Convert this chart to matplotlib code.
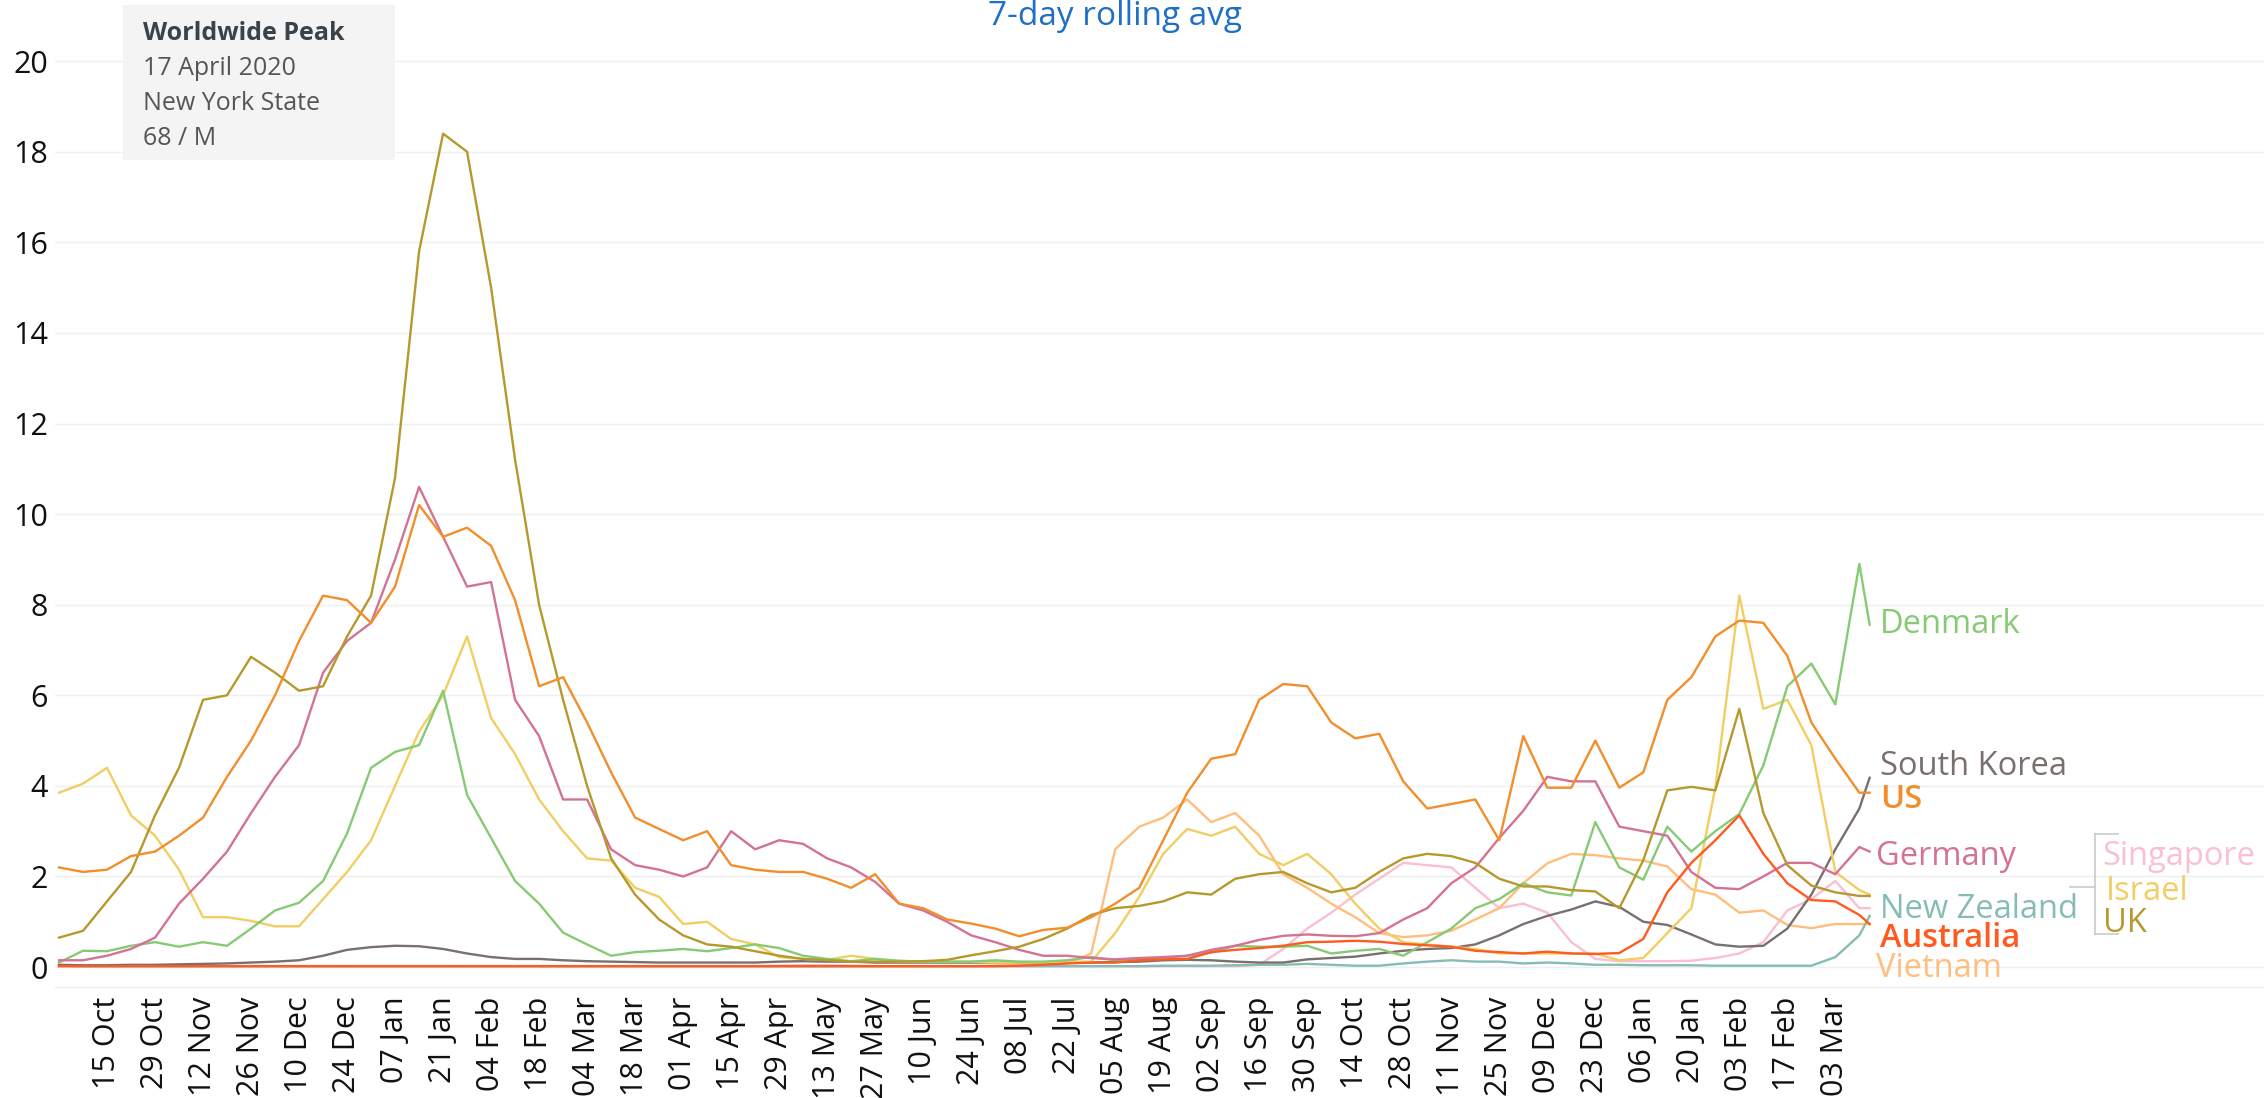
import pandas as pd
import matplotlib.pyplot as plt
import matplotlib.dates as mdates
from matplotlib.patches import Rectangle

plt.rcParams['font.family'] = ['Open Sans', 'DejaVu Sans']

# =========================================================
# Data: weekly readings (Thursdays from 01 Oct 2020) + last day
# =========================================================

dates = list(pd.date_range("2020-10-01", "2022-03-10", freq="7D")) + [pd.Timestamp("2022-03-13")]

us = [2.2, 2.1, 2.15, 2.45, 2.55, 2.9, 3.3, 4.2, 5.0, 6.0,
      7.2, 8.2, 8.1, 7.6, 8.4, 10.2, 9.5, 9.7, 9.3, 8.1,
      6.2, 6.4, 5.4, 4.3, 3.3, 3.05, 2.8, 3.0, 2.25, 2.15,
      2.1, 2.1, 1.95, 1.75, 2.05, 1.4, 1.3, 1.05, 0.96, 0.85,
      0.68, 0.82, 0.87, 1.1, 1.4, 1.75, 2.8, 3.85, 4.6, 4.7,
      5.9, 6.25, 6.2, 5.4, 5.05, 5.15, 4.1, 3.5, 3.6, 3.7,
      2.8, 5.1, 3.96, 3.96, 5.0, 3.96, 4.3, 5.9, 6.4, 7.3,
      7.65, 7.6, 6.87, 5.4, 4.6, 3.85, 3.85]

uk = [0.65, 0.8, 1.45, 2.1, 3.35, 4.4, 5.9, 6.0, 6.85, 6.5,
      6.1, 6.2, 7.3, 8.2, 10.8, 15.8, 18.4, 18.0, 15.0, 11.2,
      8.0, 5.9, 4.0, 2.4, 1.6, 1.05, 0.7, 0.5, 0.45, 0.35,
      0.25, 0.18, 0.15, 0.12, 0.12, 0.12, 0.13, 0.16, 0.26, 0.35,
      0.45, 0.62, 0.85, 1.15, 1.3, 1.35, 1.45, 1.65, 1.6, 1.95,
      2.05, 2.1, 1.85, 1.65, 1.75, 2.1, 2.4, 2.5, 2.45, 2.3,
      1.95, 1.78, 1.78, 1.7, 1.67, 1.3, 2.36, 3.9, 3.98, 3.9,
      5.7, 3.4, 2.25, 1.8, 1.65, 1.57, 1.57]

germany = [0.15, 0.15, 0.25, 0.4, 0.65, 1.4, 1.95, 2.55, 3.4, 4.2,
           4.9, 6.5, 7.2, 7.6, 9.0, 10.6, 9.5, 8.4, 8.5, 5.9,
           5.1, 3.7, 3.7, 2.6, 2.25, 2.15, 2.0, 2.2, 3.0, 2.6,
           2.8, 2.72, 2.4, 2.2, 1.88, 1.4, 1.25, 1.0, 0.7, 0.55,
           0.38, 0.25, 0.25, 0.2, 0.17, 0.2, 0.22, 0.25, 0.38, 0.47,
           0.6, 0.69, 0.72, 0.69, 0.68, 0.75, 1.05, 1.3, 1.85, 2.2,
           2.85, 3.45, 4.2, 4.1, 4.1, 3.1, 3.0, 2.9, 2.1, 1.75,
           1.72, 2.0, 2.3, 2.3, 2.05, 2.65, 2.55]

israel = [3.85, 4.05, 4.4, 3.35, 2.9, 2.15, 1.1, 1.1, 1.02, 0.9,
          0.9, 1.5, 2.1, 2.8, 4.0, 5.2, 6.0, 7.3, 5.5, 4.7,
          3.7, 3.0, 2.4, 2.35, 1.75, 1.55, 0.95, 1.0, 0.62, 0.5,
          0.22, 0.18, 0.16, 0.25, 0.18, 0.12, 0.12, 0.12, 0.12, 0.1,
          0.1, 0.1, 0.12, 0.12, 0.75, 1.55, 2.5, 3.05, 2.9, 3.1,
          2.5, 2.25, 2.5, 2.05, 1.4, 0.85, 0.55, 0.5, 0.45, 0.4,
          0.3, 0.3, 0.3, 0.3, 0.3, 0.15, 0.2, 0.75, 1.3, 3.96,
          8.2, 5.7, 5.9, 4.9, 2.1, 1.7, 1.6]

denmark = [0.1, 0.36, 0.35, 0.47, 0.55, 0.45, 0.55, 0.47, 0.85, 1.25,
           1.42, 1.9, 2.95, 4.4, 4.75, 4.9, 6.1, 3.8, 2.85, 1.9,
           1.4, 0.76, 0.5, 0.25, 0.33, 0.36, 0.4, 0.35, 0.42, 0.5,
           0.42, 0.25, 0.18, 0.13, 0.18, 0.14, 0.12, 0.12, 0.12, 0.15,
           0.12, 0.12, 0.15, 0.22, 0.15, 0.18, 0.2, 0.25, 0.32, 0.47,
           0.45, 0.45, 0.47, 0.3, 0.36, 0.4, 0.25, 0.55, 0.85, 1.3,
           1.5, 1.85, 1.65, 1.58, 3.2, 2.2, 1.93, 3.1, 2.55, 3.0,
           3.38, 4.45, 6.2, 6.7, 5.8, 8.9, 7.56]

south_korea = [0.05, 0.04, 0.04, 0.05, 0.05, 0.06, 0.07, 0.08, 0.1, 0.12,
               0.15, 0.25, 0.38, 0.44, 0.47, 0.46, 0.4, 0.3, 0.22, 0.18,
               0.18, 0.15, 0.13, 0.12, 0.11, 0.1, 0.1, 0.1, 0.1, 0.1,
               0.12, 0.13, 0.12, 0.12, 0.1, 0.1, 0.1, 0.1, 0.1, 0.1,
               0.1, 0.1, 0.1, 0.1, 0.11, 0.12, 0.15, 0.16, 0.15, 0.12,
               0.1, 0.1, 0.17, 0.2, 0.23, 0.3, 0.36, 0.4, 0.42, 0.5,
               0.7, 0.95, 1.13, 1.27, 1.45, 1.33, 1.0, 0.93, 0.72, 0.5,
               0.45, 0.47, 0.85, 1.6, 2.6, 3.5, 4.18]

australia = [0.02, 0.02, 0.02, 0.02, 0.02, 0.02, 0.02, 0.02, 0.02, 0.02,
             0.02, 0.02, 0.02, 0.02, 0.02, 0.02, 0.02, 0.02, 0.02, 0.02,
             0.02, 0.02, 0.02, 0.02, 0.02, 0.02, 0.02, 0.02, 0.02, 0.02,
             0.02, 0.02, 0.02, 0.02, 0.02, 0.02, 0.02, 0.02, 0.02, 0.02,
             0.03, 0.05, 0.08, 0.1, 0.1, 0.15, 0.17, 0.18, 0.33, 0.38,
             0.42, 0.47, 0.55, 0.56, 0.58, 0.56, 0.51, 0.48, 0.45, 0.36,
             0.33, 0.3, 0.34, 0.3, 0.29, 0.31, 0.62, 1.65, 2.3, 2.8,
             3.35, 2.5, 1.85, 1.48, 1.45, 1.15, 0.95]

vietnam = [0.02, 0.02, 0.02, 0.02, 0.02, 0.02, 0.02, 0.02, 0.02, 0.02,
           0.02, 0.02, 0.02, 0.02, 0.02, 0.02, 0.02, 0.02, 0.02, 0.02,
           0.02, 0.02, 0.02, 0.02, 0.02, 0.02, 0.02, 0.02, 0.02, 0.02,
           0.02, 0.02, 0.02, 0.02, 0.02, 0.02, 0.02, 0.02, 0.02, 0.03,
           0.04, 0.05, 0.08, 0.3, 2.6, 3.1, 3.3, 3.7, 3.2, 3.4,
           2.9, 2.05, 1.75, 1.4, 1.1, 0.75, 0.66, 0.7, 0.8, 1.05,
           1.3, 1.85, 2.29, 2.5, 2.47, 2.4, 2.35, 2.22, 1.72, 1.6,
           1.2, 1.25, 0.93, 0.86, 0.95, 0.95, 0.95]

singapore = [0.02, 0.02, 0.02, 0.02, 0.02, 0.02, 0.02, 0.02, 0.02, 0.02,
             0.02, 0.02, 0.02, 0.02, 0.02, 0.02, 0.02, 0.02, 0.02, 0.02,
             0.02, 0.02, 0.02, 0.02, 0.02, 0.02, 0.02, 0.02, 0.02, 0.02,
             0.03, 0.04, 0.04, 0.03, 0.02, 0.02, 0.02, 0.02, 0.02, 0.02,
             0.02, 0.02, 0.02, 0.02, 0.02, 0.02, 0.02, 0.02, 0.02, 0.02,
             0.05, 0.4, 0.85, 1.2, 1.6, 1.95, 2.3, 2.25, 2.2, 1.75,
             1.3, 1.4, 1.2, 0.55, 0.18, 0.13, 0.13, 0.13, 0.14, 0.2,
             0.3, 0.55, 1.25, 1.5, 1.9, 1.3, 1.3]

new_zealand = [0.03, 0.02, 0.02, 0.02, 0.02, 0.02, 0.02, 0.02, 0.02, 0.02,
               0.02, 0.02, 0.02, 0.02, 0.02, 0.02, 0.02, 0.02, 0.02, 0.02,
               0.02, 0.02, 0.02, 0.02, 0.02, 0.02, 0.02, 0.02, 0.02, 0.02,
               0.02, 0.02, 0.02, 0.02, 0.02, 0.02, 0.02, 0.02, 0.02, 0.02,
               0.02, 0.02, 0.02, 0.02, 0.02, 0.02, 0.03, 0.03, 0.03, 0.04,
               0.05, 0.05, 0.07, 0.05, 0.03, 0.03, 0.08, 0.12, 0.15, 0.12,
               0.12, 0.08, 0.1, 0.08, 0.05, 0.05, 0.04, 0.04, 0.04, 0.03,
               0.03, 0.03, 0.03, 0.03, 0.22, 0.7, 1.13]

# drawing order: first drawn ends up underneath
series = [
    ("Singapore", singapore, "#FABFD2"),
    ("Vietnam", vietnam, "#FFBE7D"),
    ("New Zealand", new_zealand, "#86BCB6"),
    ("South Korea", south_korea, "#79706E"),
    ("Israel", israel, "#F1CE63"),
    ("Denmark", denmark, "#86CB74"),
    ("Germany", germany, "#D37295"),
    ("UK", uk, "#B6992D"),
    ("US", us, "#F28E2B"),
    ("Australia", australia, "#FF5A1F"),
]

# =========================================================
# Figure
# =========================================================

W, H = 2264, 1098
fig = plt.figure(figsize=(W / 100, H / 100), dpi=100)
ax = fig.add_axes([55 / W, 1 - 987 / H, (W - 55) / W, (987 - 34) / H])

for name, values, color in series:
    ax.plot(dates, values, color=color, lw=1.7, solid_joinstyle="round")

ax.set_xlim(pd.Timestamp("2020-09-29 20:00"), pd.Timestamp("2022-07-06"))
ax.set_ylim(-0.44, 20.6)

ax.set_yticks(range(0, 21, 2))
ax.set_xticks(pd.date_range("2020-10-15", "2022-03-03", freq="14D"))
ax.xaxis.set_major_formatter(mdates.DateFormatter("%d %b"))
ax.tick_params(axis="x", length=0, labelsize=22, rotation=90, pad=7, labelcolor="#111111")
ax.tick_params(axis="y", length=0, labelsize=22, pad=5, labelcolor="#111111")

ax.grid(axis="y", color="#efefef", lw=1)
ax.set_axisbelow(True)
for side in ["top", "right", "left"]:
    ax.spines[side].set_visible(False)
ax.spines["bottom"].set_color("#ebebeb")

# =========================================================
# Line labels on the right
# =========================================================

label_spots = {
    "Denmark": ("2022-03-16", 7.37, "normal"),
    "South Korea": ("2022-03-16", 4.24, "normal"),
    "US": ("2022-03-16", 3.51, "semibold"),
    "Germany": ("2022-03-15", 2.25, "normal"),
    "New Zealand": ("2022-03-16", 1.08, "normal"),
    "Australia": ("2022-03-16", 0.44, "semibold"),
    "Vietnam": ("2022-03-15", -0.22, "normal"),
    "Singapore": ("2022-05-19 22:00", 2.25, "normal"),
    "Israel": ("2022-05-20 18:00", 1.48, "normal"),
    "UK": ("2022-05-19 22:00", 0.77, "normal"),
}

for name, values, color in series:
    x, y, weight = label_spots[name]
    ax.text(pd.Timestamp(x), y, name, color=color, fontsize=23.5,
            fontweight=weight, ha="left", va="baseline", clip_on=False)

# bracket joining Singapore / Israel / UK
br = "#c9c9c9"
x_mid = pd.Timestamp("2022-05-10 12:00")
x_bar = pd.Timestamp("2022-05-17 19:00")
x_tip = pd.Timestamp("2022-05-24 12:00")
ax.plot([x_bar, x_bar], [0.73, 2.94], color=br, lw=1.2, clip_on=False)
ax.plot([x_bar, x_tip], [2.94, 2.94], color=br, lw=1.2, clip_on=False)
ax.plot([x_bar, x_tip], [0.73, 0.73], color=br, lw=1.2, clip_on=False)
ax.plot([x_mid, x_bar], [1.77, 1.77], color=br, lw=1.2, clip_on=False)

# =========================================================
# Title and the worldwide-peak note
# =========================================================

fig.text(1115 / W, 1 - 25 / H, "7-day rolling avg", color="#1f6fc5",
         fontsize=24, ha="center", va="baseline")

fig.add_artist(Rectangle((123 / W, 1 - 160 / H), 272 / W, 155 / H,
                         transform=fig.transFigure, facecolor="#f4f4f4",
                         edgecolor="none", zorder=2))

note = [("Worldwide Peak", "bold", "#3b434a", 40),
        ("17 April 2020", "normal", "#555555", 75),
        ("New York State", "normal", "#555555", 110),
        ("68 / M", "normal", "#555555", 145)]
for txt, weight, color, base in note:
    fig.text(143 / W, 1 - base / H, txt, fontsize=18, fontweight=weight,
             color=color, ha="left", va="baseline", zorder=3)

fig.savefig("out.png", dpi=100)
